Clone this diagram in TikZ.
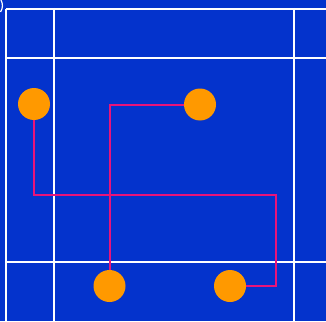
\documentclass[tikz,border=0pt]{standalone}
\usetikzlibrary{backgrounds}
\definecolor{bgblue}{RGB}{4,51,204}
\definecolor{dot}{RGB}{255,153,0}
\definecolor{wire}{RGB}{232,20,122}
\begin{document}
\begin{tikzpicture}[x=1pt,y=-1pt,
  grid/.style={draw=white,line width=2pt},
  wirepath/.style={draw=wire,line width=2pt},
  ball/.style={circle,fill=dot,inner sep=0pt,minimum size=32pt}]
\useasboundingbox (0,0) rectangle (326,321);
% balls
\node[ball] (a) at (34,104) {};
\node[ball] (b) at (200,104.5) {};
\node[ball] (c) at (109.5,286) {};
\node[ball] (d) at (230,286) {};
\coordinate (p1) at (34,194.5);
\coordinate (p2) at (275.5,194.5);
\coordinate (p3) at (275.5,286);
\coordinate (q1) at (109.5,104.5);
\begin{scope}[on background layer]
\fill[bgblue] (0,0) rectangle (326,321);
% grid
\draw[grid] (6,9) -- (326,9);
\draw[grid] (6,57.5) -- (326,57.5);
\draw[grid] (6,262) -- (326,262);
\draw[grid] (6,9) -- (6,321);
\draw[grid] (53.5,8) -- (53.5,321);
\draw[grid] (294,8) -- (294,321);
\draw[white,line width=1.2pt] (1,0) .. controls (3,4) and (3,8) .. (0.5,12);
% wires beneath balls
\draw[wirepath] (a.center) -- (p1) -- (p2) -- (p3) -- (d.center);
\draw[wirepath] (b.center) -- (q1) -- (c.center);
\end{scope}
\end{tikzpicture}
\end{document}
